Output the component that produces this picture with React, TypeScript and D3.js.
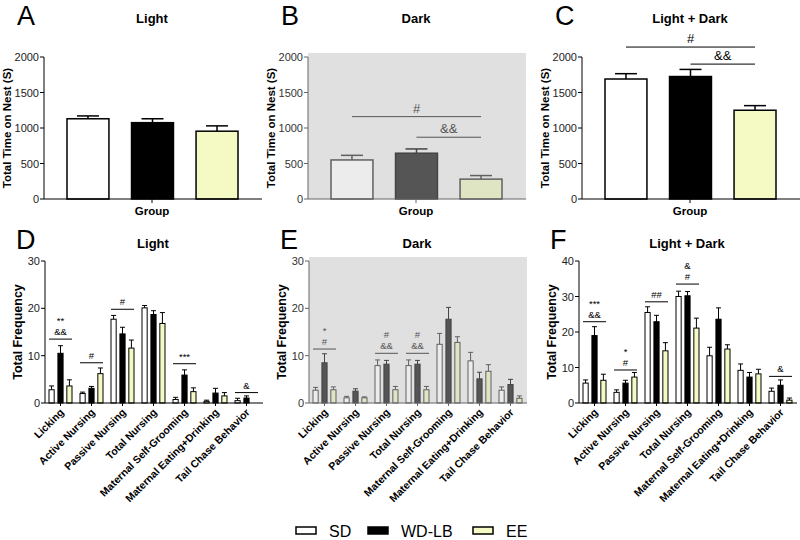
import React from "react";
import * as d3 from "d3";

const FONT = "'Liberation Sans', Arial, Helvetica, sans-serif";

// ---------- data ----------
const groups = ["SD", "WD-LB", "EE"];
const behaviors = [
  "Licking",
  "Active Nursing",
  "Passive Nursing",
  "Total Nursing",
  "Maternal Self-Grooming",
  "Maternal Eating+Drinking",
  "Tail Chase Behavior",
];

// Top: total time on nest (s)
const nestLight = [1130, 1075, 955];
const nestLightSem = [40, 55, 75];
const nestDark = [550, 645, 280];
const nestDarkSem = [65, 60, 50];
const nestBoth = [1690, 1725, 1250];
const nestBothSem = [75, 100, 65];
const topTicks = [0, 500, 1000, 1500, 2000];

// Bottom: total frequency per behavior
const lightSD = [2.8, 2.0, 17.7, 20.1, 0.75, 0.35, 0.5];
const lightSDSem = [0.8, 0.3, 0.8, 0.5, 0.45, 0.25, 0.5];
const lightWD = [10.5, 3.1, 14.6, 18.7, 5.9, 2.1, 1.05];
const lightWDSem = [1.6, 0.4, 1.4, 0.8, 1.1, 1.0, 0.45];
const lightEE = [3.6, 6.2, 11.6, 16.8, 2.4, 1.5, 0];
const lightEESem = [1.3, 1.2, 1.7, 2.3, 0.8, 0.7, 0];

const darkSD = [2.7, 1.1, 7.9, 7.9, 12.4, 8.9, 2.7];
const darkSDSem = [0.6, 0.3, 1.2, 1.2, 2.3, 1.8, 0.7];
const darkWD = [8.5, 2.5, 8.2, 8.2, 17.7, 5.1, 3.9];
const darkWDSem = [1.9, 0.5, 0.8, 0.8, 2.5, 1.4, 1.1];
const darkEE = [2.8, 1.1, 2.8, 2.8, 12.8, 6.7, 1.0];
const darkEESem = [0.6, 0.2, 0.7, 0.7, 1.2, 1.4, 0.5];

const bothSD = [5.6, 3.0, 25.5, 30.0, 13.3, 9.2, 3.3];
const bothSDSem = [0.9, 0.7, 1.6, 1.5, 2.4, 1.8, 0.9];
const bothWD = [19.0, 5.6, 22.9, 30.2, 23.6, 7.3, 5.0];
const bothWDSem = [2.5, 0.8, 1.8, 1.2, 3.2, 1.3, 1.5];
const bothEE = [6.4, 7.3, 14.7, 21.1, 15.2, 8.2, 0.8];
const bothEESem = [1.7, 1.3, 2.3, 2.8, 1.2, 1.3, 0.6];

const ticks30 = [0, 10, 20, 30];
const ticks40 = [0, 10, 20, 30, 40];

// significance marks
const sigB = [
  { from: 0, to: 2, level: 1160, label: "#" },
  { from: 1, to: 2, level: 870, label: "&&" },
];
const sigC = [
  { from: 0, to: 2, level: 2140, label: "#" },
  { from: 1, to: 2, level: 1900, label: "&&" },
];
const sigD = [
  { g: 0, level: 13.5, labels: ["**", "&&"] },
  { g: 1, level: 8.5, labels: ["#"] },
  { g: 2, level: 19.8, labels: ["#"] },
  { g: 4, level: 8.3, labels: ["***"] },
  { g: 6, level: 2.2, labels: ["&"] },
];
const sigE = [
  { g: 0, level: 11.4, labels: ["*", "#"] },
  { g: 2, level: 10.5, labels: ["#", "&&"] },
  { g: 3, level: 10.5, labels: ["#", "&&"] },
];
const sigF = [
  { g: 0, level: 22.9, labels: ["***", "&&"] },
  { g: 1, level: 9.3, labels: ["*", "#"] },
  { g: 2, level: 28.5, labels: ["##"] },
  { g: 3, level: 33.5, labels: ["&", "#"] },
  { g: 6, level: 7.5, labels: ["&"] },
];

// ---------- styles ----------
const normalStyle = {
  fills: ["#ffffff", "#000000", "#f5f9c4"],
  strokes: ["#000000", "#000000", "#000000"],
  axis: "#000000",
  text: "#222222",
  sig: "#000000",
  bg: null as string | null,
};
const darkStyle = {
  fills: ["#ececec", "#555555", "#dfe5c2"],
  strokes: ["#606060", "#444444", "#606060"],
  axis: "#666666",
  text: "#333333",
  sig: "#555555",
  bg: "#e0e0e0" as string | null,
};

type TopProps = {
  ax: number;
  letter: string;
  title: string;
  values: number[];
  sems: number[];
  style: typeof normalStyle;
  sig?: { from: number; to: number; level: number; label: string }[];
};

function TopPanel({ ax, letter, title, values, sems, style, sig }: TopProps) {
  const y = d3.scaleLinear().domain([0, 2000]).range([199, 57]);
  const xEnd = ax + 218;
  const x = d3.scaleBand().domain(groups).range([ax + 23, ax + 194]).paddingInner(0.35);
  const bw = x.bandwidth();
  const mid = ax + 108;
  return (
    <g fontFamily={FONT}>
      <text x={ax - 27} y={25} fontSize={27} fill="#000">{letter}</text>
      <text x={mid} y={23} fontSize={13} fontWeight="bold" textAnchor="middle" fill="#000">{title}</text>
      {style.bg && <rect x={ax} y={53} width={xEnd - ax} height={146} fill={style.bg} />}
      {values.map((v, i) => {
        const g = groups[i];
        const x0 = x(g)!;
        const cx = x0 + bw / 2;
        return (
          <g key={g}>
            <line x1={cx} x2={cx} y1={y(v)} y2={y(v + sems[i])} stroke={style.strokes[i]} strokeWidth={1.5} />
            <line x1={cx - 11} x2={cx + 11} y1={y(v + sems[i])} y2={y(v + sems[i])} stroke={style.strokes[i]} strokeWidth={1.5} />
            <rect x={x0} y={y(v)} width={bw} height={y(0) - y(v)} fill={style.fills[i]} stroke={style.strokes[i]} strokeWidth={1.5} />
          </g>
        );
      })}
      {(sig || []).map((s, i) => {
        const x1 = x(groups[s.from])! + bw / 2;
        const x2 = x(groups[s.to])! + bw / 2;
        return (
          <g key={i}>
            <line x1={x1} x2={x2} y1={y(s.level)} y2={y(s.level)} stroke={style.sig} strokeWidth={1} />
            <text x={(x1 + x2) / 2} y={y(s.level) - 4} fontSize={13} textAnchor="middle" fill={style.sig}>{s.label}</text>
          </g>
        );
      })}
      <line x1={ax} x2={ax} y1={y(2000)} y2={y(0)} stroke={style.axis} strokeWidth={1} />
      <line x1={ax} x2={xEnd} y1={y(0)} y2={y(0)} stroke={style.axis} strokeWidth={1.2} />
      <line x1={mid} x2={mid} y1={y(0)} y2={y(0) + 4} stroke={style.axis} strokeWidth={1} />
      {topTicks.map((t) => (
        <g key={t}>
          <line x1={ax - 4} x2={ax} y1={y(t)} y2={y(t)} stroke={style.axis} strokeWidth={1} />
          <text x={ax - 5} y={y(t) + 4} fontSize={11} textAnchor="end" fill={style.text}>{t}</text>
        </g>
      ))}
      <text x={mid} y={215} fontSize={11.5} fontWeight="bold" textAnchor="middle" fill="#000">Group</text>
      <text transform={`translate(${ax - 33},${128}) rotate(-90)`} fontSize={11.5} fontWeight="bold" textAnchor="middle" fill="#000">
        Total Time on Nest (S)
      </text>
    </g>
  );
}

type BotProps = {
  ax: number;
  letter: string;
  title: string;
  series: number[][];
  sems: number[][];
  max: number;
  ticks: number[];
  style: typeof normalStyle;
  sig: { g: number; level: number; labels: string[] }[];
};

function BottomPanel({ ax, letter, title, series, sems, max, ticks, style, sig }: BotProps) {
  const y = d3.scaleLinear().domain([0, max]).range([403, 261]);
  const xEnd = ax + 218;
  const x = d3.scaleBand().domain(behaviors).range([ax, ax + 217]);
  const step = x.bandwidth();
  const inner = d3.scaleBand().domain(groups).range([4, step - 4]).paddingInner(0.42);
  const bw = inner.bandwidth();
  const mid = ax + 108;
  return (
    <g fontFamily={FONT}>
      <text x={ax - 29} y={249} fontSize={27} fill="#000">{letter}</text>
      <text x={mid} y={248} fontSize={13} fontWeight="bold" textAnchor="middle" fill="#000">{title}</text>
      {style.bg && <rect x={ax} y={257} width={xEnd - ax} height={146} fill={style.bg} />}
      {behaviors.map((b, bi) => (
        <g key={b}>
          {series.map((vals, si) => {
            const v = vals[bi];
            if (v <= 0) return null;
            const x0 = x(b)! + inner(groups[si])!;
            const cx = x0 + bw / 2;
            const top = y(v + sems[si][bi]);
            return (
              <g key={si}>
                <line x1={cx} x2={cx} y1={y(v)} y2={top} stroke={style.strokes[si]} strokeWidth={1} />
                <line x1={cx - 2.5} x2={cx + 2.5} y1={top} y2={top} stroke={style.strokes[si]} strokeWidth={1} />
                <rect x={x0} y={y(v)} width={bw} height={y(0) - y(v)} fill={style.fills[si]} stroke={style.strokes[si]} strokeWidth={1} />
              </g>
            );
          })}
        </g>
      ))}
      {sig.map((s, i) => {
        const b = behaviors[s.g];
        const x1 = x(b)! + inner(groups[0])!;
        const x2 = x(b)! + inner(groups[2])! + bw;
        const ly = y(s.level);
        const n = s.labels.length;
        return (
          <g key={i}>
            <line x1={x1} x2={x2} y1={ly} y2={ly} stroke={style.sig} strokeWidth={1} />
            {s.labels.map((l, li) => (
              <text key={li} x={(x1 + x2) / 2} y={ly - 4 - (n - 1 - li) * 11} fontSize={9.5} textAnchor="middle" fill={style.sig}>
                {l}
              </text>
            ))}
          </g>
        );
      })}
      <line x1={ax} x2={ax} y1={y(max)} y2={y(0)} stroke={style.axis} strokeWidth={1} />
      <line x1={ax} x2={xEnd} y1={y(0)} y2={y(0)} stroke={style.axis} strokeWidth={1.2} />
      {behaviors.map((b) => {
        const cx = x(b)! + step / 2;
        return <line key={b} x1={cx} x2={cx} y1={y(0)} y2={y(0) + 3} stroke={style.axis} strokeWidth={1} />;
      })}
      {ticks.map((t) => (
        <g key={t}>
          <line x1={ax - 4} x2={ax} y1={y(t)} y2={y(t)} stroke={style.axis} strokeWidth={1} />
          <text x={ax - 5} y={y(t) + 4} fontSize={11} textAnchor="end" fill={style.text}>{t}</text>
        </g>
      ))}
      {behaviors.map((b) => {
        const cx = x(b)! + step / 2;
        return (
          <text key={b} transform={`translate(${cx + 4},${y(0) + 10}) rotate(-45)`} fontSize={10.5} fontWeight="bold" textAnchor="end" fill="#000">
            {b}
          </text>
        );
      })}
      <text transform={`translate(${ax - 23},${332}) rotate(-90)`} fontSize={12.5} fontWeight="bold" textAnchor="middle" fill="#000">
        Total Frequency
      </text>
    </g>
  );
}

function Legend() {
  const items = [
    { label: groups[0], fill: normalStyle.fills[0], x: 296 },
    { label: groups[1], fill: normalStyle.fills[1], x: 368 },
    { label: groups[2], fill: normalStyle.fills[2], x: 473 },
  ];
  return (
    <g fontFamily={FONT}>
      {items.map((it) => (
        <g key={it.label}>
          <rect x={it.x} y={527} width={20} height={7} fill={it.fill} stroke="#000" strokeWidth={1.5} />
          <text x={it.x + 33} y={537} fontSize={16} fill="#000">{it.label}</text>
        </g>
      ))}
    </g>
  );
}

export default function App() {
  return (
    <svg width={800} height={540} style={{ position: "absolute", left: 0, top: 0, background: "#fff" }}>
      <rect width={800} height={540} fill="#fff" />
      <TopPanel ax={44} letter="A" title="Light" values={nestLight} sems={nestLightSem} style={normalStyle} />
      <TopPanel ax={308} letter="B" title="Dark" values={nestDark} sems={nestDarkSem} style={darkStyle} sig={sigB} />
      <TopPanel ax={582} letter="C" title="Light + Dark" values={nestBoth} sems={nestBothSem} style={normalStyle} sig={sigC} />
      <BottomPanel ax={45} letter="D" title="Light" series={[lightSD, lightWD, lightEE]} sems={[lightSDSem, lightWDSem, lightEESem]} max={30} ticks={ticks30} style={normalStyle} sig={sigD} />
      <BottomPanel ax={309} letter="E" title="Dark" series={[darkSD, darkWD, darkEE]} sems={[darkSDSem, darkWDSem, darkEESem]} max={30} ticks={ticks30} style={darkStyle} sig={sigE} />
      <BottomPanel ax={579} letter="F" title="Light + Dark" series={[bothSD, bothWD, bothEE]} sems={[bothSDSem, bothWDSem, bothEESem]} max={40} ticks={ticks40} style={normalStyle} sig={sigF} />
      <Legend />
    </svg>
  );
}
